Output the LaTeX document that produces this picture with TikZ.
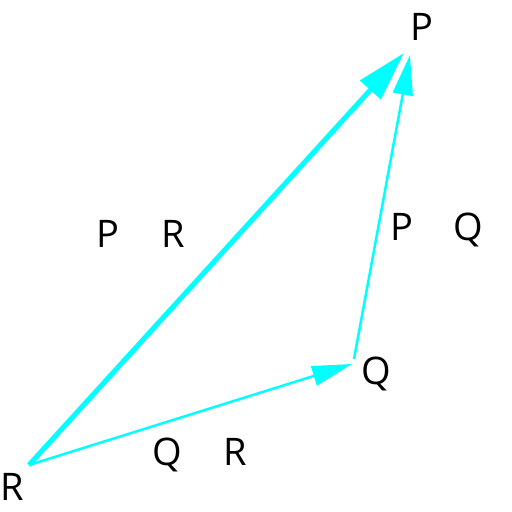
\documentclass[tikz,border=0pt]{standalone}
\usepackage{fontspec}
\setmainfont{Open Sans}
\usetikzlibrary{arrows.meta}
\definecolor{cy}{RGB}{0,255,255}
\tikzset{
  lbl/.style={anchor=base, inner sep=0pt, font=\fontsize{38}{40}\selectfont},
  thinarrow/.style={draw=cy, line width=2.5pt, -{Triangle[length=40pt,width=20pt]}},
  thickarrow/.style={draw=cy, line width=5pt, -{Triangle[length=50pt,width=27pt]}}
}
\begin{document}
\begin{tikzpicture}[x=1pt,y=-1pt]
\useasboundingbox (0,0) rectangle (512,512);
\coordinate (R) at (29,465);
\coordinate (Pa) at (404,53);
\coordinate (Pb) at (410,55);
\coordinate (Qa) at (352,364);
\coordinate (Qb) at (354,359);
\draw[thickarrow] (R) -- (Pa);
\draw[thinarrow] (R) -- (Qa);
\draw[thinarrow] (Qb) -- (Pb);
\node[lbl] (lP) at (422,40) {P};
\node[lbl] (lQ) at (376,384) {Q};
\node[lbl] (lR) at (12,500) {R};
\node[lbl] (pr1) at (108,247) {P};
\node[lbl] (pr2) at (173,247) {R};
\node[lbl] (pq1) at (402,240) {P};
\node[lbl] (pq2) at (468,240) {Q};
\node[lbl] (qr1) at (167,465) {Q};
\node[lbl] (qr2) at (235,465) {R};
\end{tikzpicture}
\end{document}
